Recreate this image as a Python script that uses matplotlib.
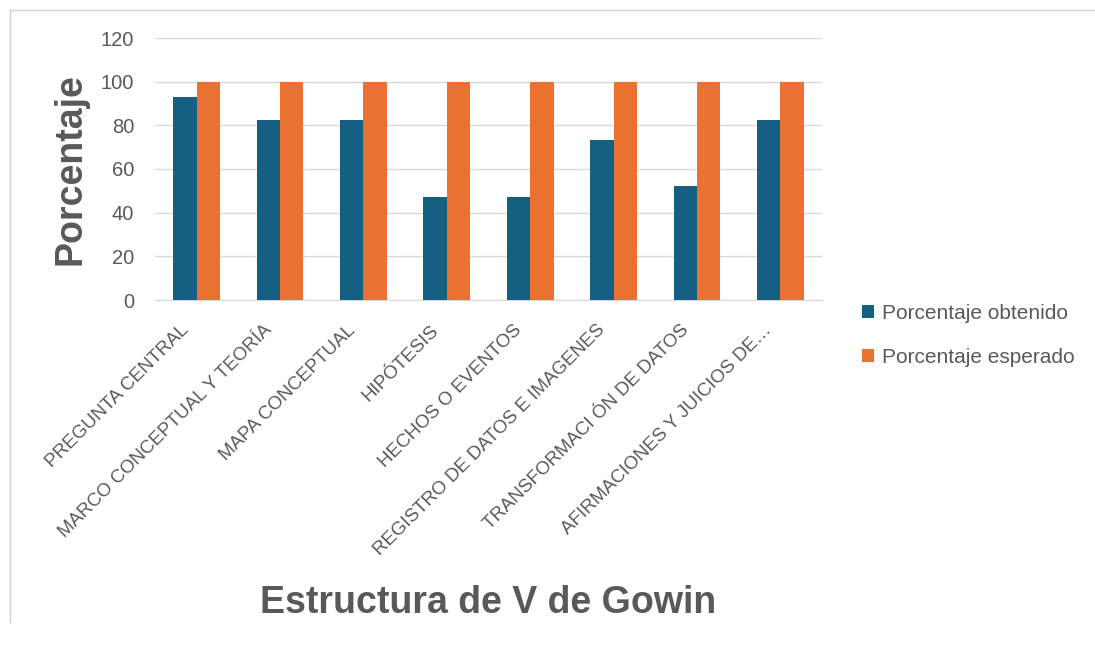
import numpy as np
import matplotlib.pyplot as plt
import matplotlib.transforms as mtransforms
from matplotlib.lines import Line2D

# --- data ---
categorias = [
    "PREGUNTA CENTRAL",
    "MARCO CONCEPTUAL Y TEORÍA",
    "MAPA CONCEPTUAL",
    "HIPÓTESIS",
    "HECHOS O EVENTOS",
    "REGISTRO DE DATOS E IMAGENES",
    "TRANSFORMACI ÓN DE DATOS",
    "AFIRMACIONES Y JUICIOS DE…",
]
obtenido = [92.9, 82.4, 82.4, 47.1, 47.1, 73.5, 52.4, 82.4]
esperado = [100, 100, 100, 100, 100, 100, 100, 100]
yticks = [0, 20, 40, 60, 80, 100, 120]

azul = "#156082"
naranja = "#E97132"
gris_txt = "#595959"

plt.rcParams['font.family'] = ['Liberation Sans', 'DejaVu Sans']

fig = plt.figure(figsize=(10.95, 6.51), dpi=100)
ax = fig.add_axes([155 / 1095, 1 - 300 / 651, 667 / 1095, 262 / 651])

x = np.arange(len(categorias))
w = 0.28
ax.bar(x - w / 2, obtenido, width=w, color=azul, label="Porcentaje obtenido", zorder=3)
ax.bar(x + w / 2, esperado, width=w, color=naranja, label="Porcentaje esperado", zorder=3)

ax.set_xlim(-0.5, len(categorias) - 0.5)
ax.set_ylim(0, 120)
ax.set_yticks(yticks)
ax.tick_params(axis='y', length=0, labelsize=14.5, labelcolor=gris_txt, pad=15)
ax.tick_params(axis='x', length=0, pad=4)
ax.grid(axis='y', color="#d9d9d9", linewidth=1, zorder=0)
for s in ['top', 'right', 'left']:
    ax.spines[s].set_visible(False)
ax.spines['bottom'].set_color("#d9d9d9")

ax.set_xticks(x)
ax.set_xticklabels(categorias, rotation=45, ha='right', va='top',
                   rotation_mode='anchor', fontsize=13.5, color=gris_txt)
offset = mtransforms.ScaledTranslation(-17 / 100, -16 / 100, fig.dpi_scale_trans)
for lbl in ax.get_xticklabels():
    lbl.set_transform(lbl.get_transform() + offset)

ax.set_ylabel("Porcentaje", fontsize=27, fontweight='bold', color=gris_txt, labelpad=9)
fig.text(488 / 1095, 1 - 603 / 651, "Estructura de V de Gowin", fontsize=27,
         fontweight='bold', color=gris_txt, ha='center', va='center')

handles, labels = ax.get_legend_handles_labels()
fig.legend(handles, labels, loc='upper left', bbox_to_anchor=(843 / 1095, 1 - 285 / 651),
           frameon=False, fontsize=15, labelcolor=gris_txt, handlelength=0.6,
           handleheight=0.6, handletextpad=0.35, labelspacing=1.2)

# outer chart frame (light gray)
fig.add_artist(Line2D([10 / 1095, 1], [1 - 10 / 651, 1 - 10 / 651], color="#d0d0d0", lw=1))
fig.add_artist(Line2D([10 / 1095, 10 / 1095], [1 - 10 / 651, 1 - 622 / 651], color="#d0d0d0", lw=1))

fig.savefig("out.png", dpi=100)
